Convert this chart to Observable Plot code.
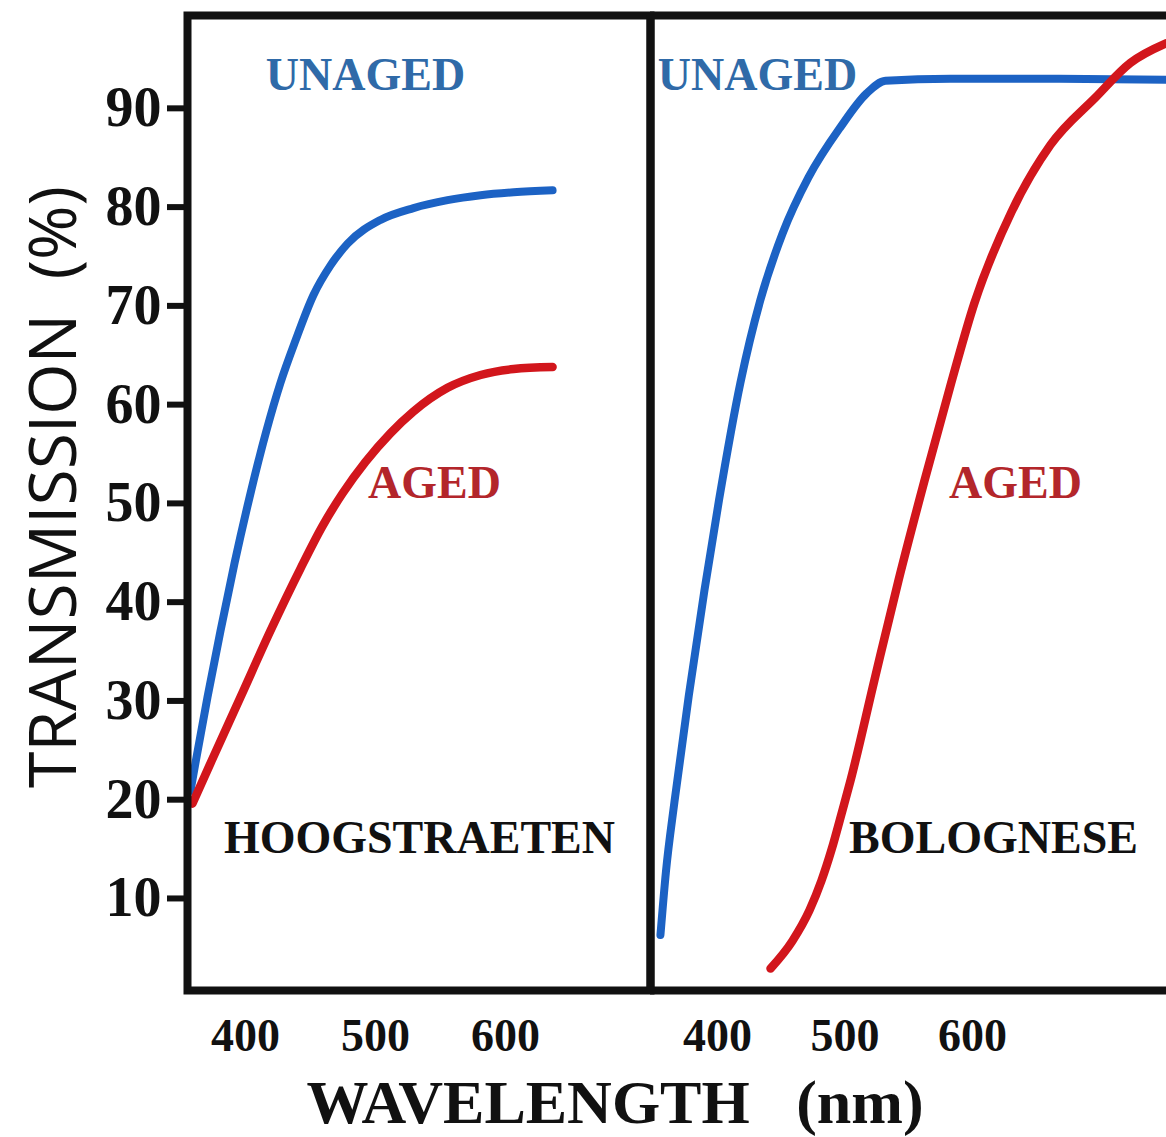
<!DOCTYPE html>
<html>
<head>
<meta charset="utf-8">
<script src="https://cdn.jsdelivr.net/npm/d3@7"></script>
<script src="https://cdn.jsdelivr.net/npm/@observablehq/plot@0.6"></script>
<style>
  html, body { margin: 0; padding: 0; background: #fff; }
  #wrap { position: relative; width: 1166px; height: 1137px; overflow: hidden; background: #fff; }
  #wrap svg { position: absolute; top: 0; }
  .ytitle { position: absolute; left: 50px; top: 487px; transform: translate(-50%, -50%) rotate(-90deg);
    font-family: "Open Sans", "Liberation Sans", sans-serif; font-size: 66px; color: #111; white-space: pre; line-height: 1; }
  .xtitle { position: absolute; left: 615px; top: 1102px; transform: translate(-50%, -50%);
    font-family: "Liberation Serif", "DejaVu Serif", serif; font-weight: bold; font-size: 62px; color: #111; white-space: pre; line-height: 1; }
</style>
</head>
<body>
<div id="wrap">
  <div class="ytitle">TRANSMISSION  (%)</div>
  <div class="xtitle">WAVELENGTH   (nm)</div>
</div>
<script>
// ---- Data ----
const yTicks = [10, 20, 30, 40, 50, 60, 70, 80, 90];
const xTicks = [400, 500, 600];

// HOOGSTRAETEN panel
const hoogUnagedWl = [357.7, 361.5, 370.8, 380.8, 391.5, 403.1, 416.2, 426.9, 438.5, 452.3, 465.4, 478.5, 503.8, 529.2, 555.4, 580.8, 606.2, 636.2];
const hoogUnagedT  = [20.9, 23.7, 30.4, 37.1, 43.9, 50.6, 57.4, 62.2, 66.5, 71.1, 74.1, 76.3, 78.7, 79.9, 80.7, 81.2, 81.5, 81.7];
const hoogAgedWl   = [359.2, 373.1, 396.2, 419.2, 442.3, 459.2, 474.6, 492.3, 511.5, 529.2, 555.4, 580.8, 606.2, 636.2];
const hoogAgedT    = [19.6, 23.7, 30.4, 37.1, 43.4, 47.7, 51.0, 54.2, 57.1, 59.3, 61.7, 63.0, 63.6, 63.8];

// BOLOGNESE panel
const bologUnagedWl = [355.3, 359.6, 366.3, 377.6, 389.8, 401.2, 418.0, 433.7, 451.0, 471.4, 496.5, 516.9, 531.8, 582.7, 661.2, 752.2];
const bologUnagedT  = [6.3, 12.7, 19.8, 30.6, 41.2, 50.3, 62.2, 70.6, 77.3, 83.0, 88.1, 91.5, 92.8, 93.0, 93.0, 92.9];
const bologAgedWl   = [441.6, 458.8, 472.2, 481.6, 489.4, 498.0, 504.3, 523.1, 542.0, 562.4, 582.7, 601.6, 630.6, 661.2, 696.5, 723.9, 752.2];
const bologAgedT    = [2.9, 5.7, 8.8, 11.8, 14.9, 18.9, 21.9, 32.1, 42.2, 52.3, 61.9, 70.3, 79.5, 86.3, 91.1, 94.6, 96.6];

const panelNames = ["HOOGSTRAETEN", "BOLOGNESE"];
const seriesNames = ["UNAGED", "AGED"];

const toRows = (wl, t) => wl.map((w, i) => ({wl: w, t: t[i]}));

const SERIF = "Liberation Serif, DejaVu Serif, serif";
const BLUE = "#1c62c4", RED = "#d2161c";
const BLUE_TXT = "#2f6aa8", RED_TXT = "#b3262b", INK = "#111";

const yDomain = [0.68, 99.4];
const common = {
  height: 1065, marginTop: 15, marginBottom: 75, marginRight: 0,
  style: {background: "transparent", overflow: "visible"}
};

function labels(pos) {
  return [
    Plot.text([seriesNames[0]], {x: pos.unaged[0], y: pos.unaged[1], text: d => d, fill: BLUE_TXT, fontFamily: SERIF, fontWeight: "bold", fontSize: 46}),
    Plot.text([seriesNames[1]], {x: pos.aged[0], y: pos.aged[1], text: d => d, fill: RED_TXT, fontFamily: SERIF, fontWeight: "bold", fontSize: 46}),
    Plot.text([pos.name], {x: pos.panel[0], y: pos.panel[1], text: d => d, fill: INK, fontFamily: SERIF, fontWeight: "bold", fontSize: 46})
  ];
}

function xAxis() {
  return Plot.axisX({ticks: xTicks, tickSize: 0, tickPadding: 28, fontSize: 46, fontFamily: SERIF, fontWeight: "bold", fill: INK, label: null});
}

const CURVE = "monotone-x";

const left = Plot.plot({
  ...common,
  width: 650, marginLeft: 187,
  x: {domain: [355.4, 711.5]},
  y: {domain: yDomain},
  marks: [
    xAxis(),
    Plot.axisY({ticks: yTicks, tickSize: 20, tickPadding: 6, strokeWidth: 6, stroke: INK, fontSize: 56, fontFamily: SERIF, fontWeight: "bold", fill: INK, label: null}),
    Plot.line(toRows(hoogUnagedWl, hoogUnagedT), {x: "wl", y: "t", stroke: BLUE, strokeWidth: 8, curve: CURVE}),
    Plot.line(toRows(hoogAgedWl, hoogAgedT), {x: "wl", y: "t", stroke: RED, strokeWidth: 8.5, curve: CURVE}),
    ...labels({name: panelNames[0], unaged: [492.3, 93.3], aged: [545.4, 52.0], panel: [533.8, 16.1]}),
    Plot.frame({stroke: INK, strokeWidth: 8})
  ]
});
left.style.left = "0px";

const right = Plot.plot({
  ...common,
  width: 546, marginLeft: 30,
  x: {domain: [347.5, 752.2]},
  y: {domain: yDomain, axis: null},
  marks: [
    xAxis(),
    Plot.line(toRows(bologUnagedWl, bologUnagedT), {x: "wl", y: "t", stroke: BLUE, strokeWidth: 8, curve: CURVE}),
    Plot.line(toRows(bologAgedWl, bologAgedT), {x: "wl", y: "t", stroke: RED, strokeWidth: 8.5, curve: CURVE}),
    ...labels({name: panelNames[1], unaged: [431.4, 93.3], aged: [633.7, 52.0], panel: [616.5, 16.1]}),
    Plot.ruleX([347.5], {stroke: INK, strokeWidth: 8}),
    Plot.ruleY(yDomain, {stroke: INK, strokeWidth: 8})
  ]
});
right.style.left = "620px";

const wrap = document.getElementById("wrap");
wrap.appendChild(left);
wrap.appendChild(right);
</script>
</body>
</html>
